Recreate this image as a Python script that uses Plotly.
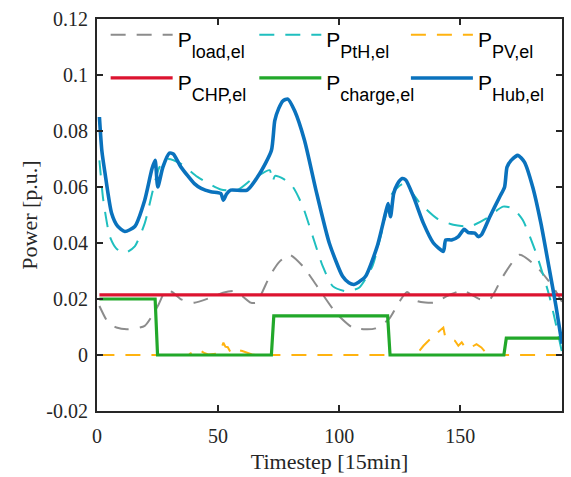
import plotly.graph_objects as go

# ---------------- data ----------------
load_t = [1, 4.6, 8, 12.8, 19.7, 25.1, 28.5, 31, 34.7, 40.2, 47, 52, 56.6, 60, 63.4, 65.8,
          71.3, 75, 79.5, 85, 91.8, 98.6, 105.5, 110, 115, 120.5, 124.6, 128, 132.1,
          138.9, 145.8, 151.2, 158.1, 162.2, 167.6, 174.5, 181.3, 188.1, 192]
load_v = [0.0175, 0.0116, 0.0098, 0.0092, 0.0104, 0.0175, 0.0232, 0.0225, 0.0199, 0.0187,
          0.0205, 0.0222, 0.0228, 0.021, 0.0187, 0.0187, 0.0281, 0.033, 0.0358, 0.0317,
          0.0234, 0.0151, 0.0098, 0.0092, 0.0095, 0.0128, 0.0187, 0.0225, 0.0193, 0.0187,
          0.0216, 0.023, 0.0199, 0.0199, 0.0281, 0.0358, 0.0317, 0.0246, 0.019]

pth_t = [1, 2.6, 5.3, 8, 11.5, 15.6, 19.7, 23.1, 25.8, 29.2, 34.7, 41.5, 51.1, 57.9, 63.4,
         65.8, 71.3, 72.5, 73.5, 76.8, 80.9, 85, 89.1, 93.2, 97.3, 102.7, 108.2, 113.7,
         117.8, 121.9, 126.6, 133.5, 140.3, 147.1, 154, 160.8, 167.6, 171.7, 175.8, 181.3,
         186.8, 192]
pth_v = [0.0695, 0.0553, 0.0423, 0.038, 0.0364, 0.0388, 0.047, 0.0589, 0.0671, 0.070,
         0.0683, 0.0636, 0.0591, 0.0589, 0.0624, 0.0636, 0.066, 0.062, 0.064, 0.063, 0.060,
         0.053, 0.0423, 0.0317, 0.0246, 0.0228, 0.024, 0.0317, 0.0447, 0.0577, 0.0612,
         0.0541, 0.0488, 0.0465, 0.0459, 0.0488, 0.053, 0.0524, 0.0482, 0.0364, 0.021, 0.001]

pv_t = [1, 38, 38.5, 40, 41.5, 43, 44.5, 46, 49.5, 51, 52.2, 53, 54, 55, 57, 58, 60, 62, 64,
        66, 131, 132, 134.8, 137.6, 141.7, 143, 143.7, 145.5, 147.8, 149.2, 150.6, 152,
        154, 156.7, 158.7, 160.8, 162, 192]
pv_v = [0, 0, 0.0005, 0.0012, 0.0008, 0.0014, 0.0006, 0.0002, 0.0005, 0.0015, 0.0044,
        0.003, 0.0028, 0.0012, 0.001, 0.0018, 0.0014, 0.0008, 0.0002, 0, 0, 0.0003, 0.0033,
        0.0057, 0.0086, 0.0098, 0.0068, 0.0058, 0.0051, 0.0033, 0.0045, 0.0027, 0.0025,
        0.0039, 0.0027, 0.0006, 0, 0]

chp_t = [1, 192]
chp_v = [0.0215, 0.0215]

charge_t = [1, 24, 25, 72, 73, 120, 121, 168, 169, 192]
charge_v = [0.02, 0.02, 0, 0, 0.014, 0.014, 0, 0, 0.006, 0.006]

hub_t = [1, 2, 3.3, 6, 8.5, 11.5, 15.6, 19.7, 22.7, 24, 25.1, 27.2, 29.9, 31.5, 34.7, 40.2,
         43, 47, 51.1, 52.2, 53.5, 55.2, 62, 67.2, 72, 73.4, 75, 76.8, 78.8, 81.6, 85.7,
         90.4, 95.9, 101.4, 104, 106.1, 108, 110.9, 115.7, 119.1, 120.2, 121.2, 122.5, 124,
         126, 127.5, 130.7, 134.8, 138.9, 143, 144, 146.4, 149.2, 151.6, 153.3, 156, 157.4,
         158.7, 162.2, 166.3, 168.3, 169.3, 171, 173.8, 176.5, 179.9, 183.3, 186.8, 189.5, 192]
hub_v = [0.085, 0.073, 0.065, 0.0507, 0.046, 0.0441, 0.0459, 0.0553, 0.0665, 0.0695, 0.060,
         0.0671, 0.0721, 0.0718, 0.0671, 0.0612, 0.0595, 0.0583, 0.0577, 0.0553, 0.0575,
         0.0589, 0.0589, 0.0648, 0.073, 0.0837, 0.088, 0.0908, 0.0914, 0.0872, 0.0766,
         0.0589, 0.040, 0.0281, 0.0258, 0.0252, 0.026, 0.0281, 0.0388, 0.0506, 0.0541,
         0.0494, 0.0577, 0.061, 0.063, 0.0625, 0.0565, 0.047, 0.040, 0.037, 0.0411, 0.0411,
         0.0423, 0.0449, 0.0437, 0.0435, 0.0423, 0.0429, 0.0494, 0.0565, 0.060, 0.0671,
         0.0695, 0.0713, 0.0689, 0.060, 0.047, 0.0305, 0.0175, 0.004]

x_ticks = [0, 50, 100, 150]
y_ticks = [-0.02, 0, 0.02, 0.04, 0.06, 0.08, 0.1, 0.12]
y_tick_text = ["-0.02", "0", "0.02", "0.04", "0.06", "0.08", "0.1", "0.12"]

legend_base = ["P", "P", "P", "P", "P", "P"]
legend_subs = ["load,el", "PtH,el", "PV,el", "CHP,el", "charge,el", "Hub,el"]

# ---------------- figure ----------------
DASH = "15px,11px"
styles = [
    ("#8c8c8c", 2, DASH, "spline", "legend"),
    ("#1fbfbf", 2, DASH, "spline", "legend2"),
    ("#ffb310", 2, DASH, "linear", "legend3"),
    ("#dc1430", 3.2, "solid", "linear", "legend"),
    ("#22a82a", 3.2, "solid", "linear", "legend2"),
    ("#0a72bd", 3.6, "solid", "spline", "legend3"),
]
data = [(load_t, load_v), (pth_t, pth_v), (pv_t, pv_v),
        (chp_t, chp_v), (charge_t, charge_v), (hub_t, hub_v)]

fig = go.Figure()
for base, sub, (xs, ys), (col, w, dash, shape, leg) in zip(legend_base, legend_subs, data, styles):
    line = dict(color=col, width=w, dash=dash, shape=shape)
    if shape == "spline":
        line["smoothing"] = 0.6
    label = ('<span style="font-size:21px">' + base + '</span>'
             '<sub><sub><span style="font-size:18px">' + sub + '</span></sub></sub>')
    fig.add_trace(go.Scatter(x=xs, y=ys, mode="lines", name=label, legend=leg, line=line))

axis_common = dict(
    showline=True, linecolor="#262626", linewidth=2, mirror="ticks",
    ticks="inside", ticklen=6, tickwidth=1.5, tickcolor="#262626",
    showgrid=False, zeroline=False,
    tickfont=dict(family="Liberation Serif", size=20, color="#262626"),
)

legend_common = dict(
    orientation="v", y=1.028, xanchor="left", yanchor="top",
    bgcolor="rgba(0,0,0,0)", borderwidth=0,
    font=dict(family="Liberation Sans", size=31, color="black"),
    itemwidth=62, traceorder="normal", tracegroupgap=0,
)

fig.update_layout(
    width=571, height=477,
    margin=dict(l=97, r=7, t=19, b=64),
    paper_bgcolor="white", plot_bgcolor="white",
    xaxis=dict(range=[0, 192], tickvals=x_ticks, ticklabelstandoff=6,
               title=dict(text="Timestep [15min]", standoff=8,
                          font=dict(family="Liberation Serif", size=22, color="#262626")),
               **axis_common),
    yaxis=dict(range=[-0.02, 0.12], tickvals=y_ticks, ticktext=y_tick_text,
               ticklabelstandoff=3,
               title=dict(text="Power [p.u.]", standoff=3,
                          font=dict(family="Liberation Serif", size=22, color="#262626")),
               **axis_common),
    legend=dict(x=0.0186, **legend_common),
    legend2=dict(x=0.3383, **legend_common),
    legend3=dict(x=0.6643, **legend_common),
    showlegend=True,
)

fig.write_html("out.html", config={"displayModeBar": False},
               post_script="document.body.style.margin='0px';")
